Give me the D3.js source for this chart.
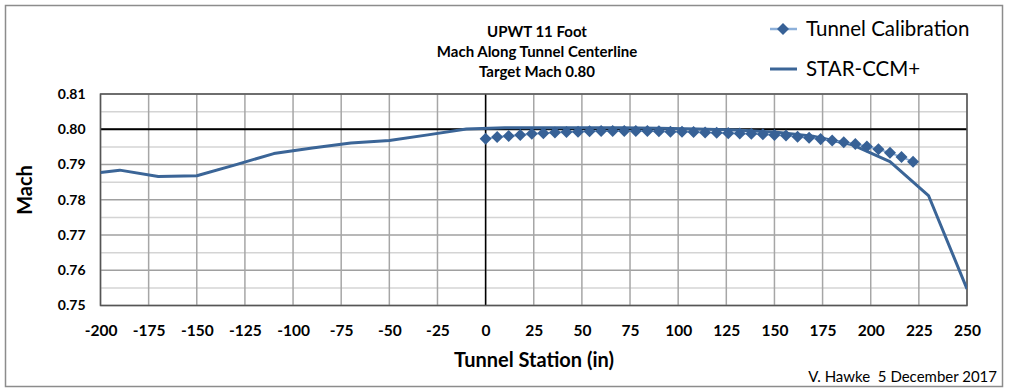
<!DOCTYPE html>
<html>
<head>
<meta charset="utf-8">
<script src="https://cdn.jsdelivr.net/npm/d3@7"></script>
<style>
  body { margin: 0; background: #fff; }
  svg text { font-family: Lato, "Open Sans", sans-serif; fill: #000; }
</style>
</head>
<body>
<div id="chart"></div>
<script>
// STAR-CCM+ CFD line
let cfdStation = [-200,-190,-170,-150,-130,-110,-90,-70,-50,-30,-10,10,30,50,70,90,110,130,150,170,190,210,230,250];
let cfdMach = [0.7877,0.7884,0.7866,0.7868,0.7899,0.7931,0.7947,0.7961,0.7968,0.7984,0.8001,0.8004,0.8004,0.8004,0.8004,0.8003,0.8001,0.7998,0.7992,0.7980,0.7957,0.7908,0.7812,0.7547];

// tunnel calibration points
let calStation = [0,6,12,18,24,30,36,42,48,54,60,66,72,78,84,90,96,102,108,114,120,126,132,138,144,150,156,162,168,174,180,186,192,198,204,210,216,222];
let calMach = [0.7973,0.7978,0.7981,0.7984,0.7987,0.7989,0.7991,0.7992,0.7993,0.7994,0.7995,0.7995,0.7995,0.7995,0.7995,0.7994,0.7993,0.7993,0.7992,0.7991,0.7990,0.7989,0.7988,0.7987,0.7986,0.7984,0.7982,0.7979,0.7976,0.7972,0.7968,0.7963,0.7958,0.7951,0.7943,0.7933,0.7921,0.7908];

let xTicks = d3.range(-200, 251, 25);
let yTicks = [0.75,0.76,0.77,0.78,0.79,0.80,0.81];
let yMinor = [0.755,0.765,0.775,0.785,0.795,0.805];
let titleLines = ['UPWT 11 Foot','Mach Along Tunnel Centerline','Target Mach 0.80'];

let width = 1009;
let height = 391;

const margin = {
    top: 94,
    left: 100.5,
    bottom: 85.5,
    right: 42,
};

let innerW = width - margin.left - margin.right;
let innerH = height - margin.top - margin.bottom;

let svg = d3.select('#chart').append('svg')
    .attr('width', width)
    .attr('height', height);

// outer chart frame
svg.append('rect')
    .attr('x', 5.5).attr('y', 5.5)
    .attr('width', 997).attr('height', 381)
    .attr('fill', 'none').attr('stroke', '#8c8c8c').attr('stroke-width', 1.5);

let g = svg.append('g').attr('transform', 'translate(' + margin.left + ',' + margin.top + ')');

let x = d3.scaleLinear().domain([-200, 250]).range([0, innerW]);
let y = d3.scaleLinear().domain([0.75, 0.81]).range([innerH, 0]);

//-----grid-------
g.selectAll('.minor').data(yMinor).enter().append('line')
    .attr('x1', 0).attr('x2', innerW)
    .attr('y1', d => y(d)).attr('y2', d => y(d))
    .attr('stroke', '#d4d4d4').attr('stroke-width', 1.5);

g.selectAll('.major').data(yTicks).enter().append('line')
    .attr('x1', 0).attr('x2', innerW)
    .attr('y1', d => y(d)).attr('y2', d => y(d))
    .attr('stroke', '#a0a0a0').attr('stroke-width', 1.5);

g.selectAll('.vgrid').data(xTicks).enter().append('line')
    .attr('x1', d => x(d)).attr('x2', d => x(d))
    .attr('y1', 0).attr('y2', innerH)
    .attr('stroke', '#a6a6a6').attr('stroke-width', 1.5);

// reference lines at station 0 and Mach 0.80
g.append('line')
    .attr('x1', x(0)).attr('x2', x(0)).attr('y1', 0).attr('y2', innerH)
    .attr('stroke', '#000').attr('stroke-width', 1.5);
g.append('line')
    .attr('x1', 0).attr('x2', innerW).attr('y1', y(0.80)).attr('y2', y(0.80))
    .attr('stroke', '#000').attr('stroke-width', 2);

g.append('rect')
    .attr('width', innerW).attr('height', innerH)
    .attr('fill', 'none').attr('stroke', '#555').attr('stroke-width', 1.5);

//-----axes-------
// plain hyphen for negatives, like the original
let xAxis = d3.axisBottom(x).tickValues(xTicks).tickSize(0).tickPadding(19).tickFormat(d => String(d));
let xg = g.append('g').attr('transform', 'translate(0,' + innerH + ')').call(xAxis);
xg.select('.domain').remove();
xg.selectAll('text').attr('font-size', 15.5).attr('font-weight', 'bold').attr('font-family', 'Lato, sans-serif');

let yAxis = d3.axisLeft(y).tickValues(yTicks).tickSize(0).tickPadding(15).tickFormat(d3.format('.2f'));
let yg = g.append('g').call(yAxis);
yg.select('.domain').remove();
yg.selectAll('text').attr('font-size', 14).attr('font-weight', 'bold').attr('font-family', 'Lato, sans-serif');

//-----series-------
let clip = svg.append('clipPath').attr('id', 'clip').append('rect')
    .attr('width', innerW).attr('height', innerH);

let cfdLine = d3.line()
    .x((d, i) => x(cfdStation[i]))
    .y(d => y(d));

g.append('path')
    .datum(cfdMach)
    .attr('clip-path', 'url(#clip)')
    .attr('d', cfdLine)
    .attr('fill', 'none')
    .attr('stroke', '#3b6597')
    .attr('stroke-width', 3)
    .attr('stroke-linejoin', 'round');

let calLine = d3.line()
    .x((d, i) => x(calStation[i]))
    .y(d => y(d));

g.append('path')
    .datum(calMach)
    .attr('d', calLine)
    .attr('fill', 'none')
    .attr('stroke', '#8db0da')
    .attr('stroke-width', 2);

let diamond = d3.symbol().type(d3.symbolDiamond2).size(92);

g.selectAll('.cal').data(calMach).enter().append('path')
    .attr('d', diamond)
    .attr('transform', (d, i) => 'translate(' + x(calStation[i]) + ',' + y(d) + ')')
    .attr('fill', '#376196');

//-----titles-------
svg.selectAll('.title').data(titleLines).enter().append('text')
    .attr('x', 537)
    .attr('y', (d, i) => 37 + i * 20)
    .attr('text-anchor', 'middle')
    .attr('font-size', 15)
    .attr('font-weight', 'bold')
    .text(d => d);

svg.append('text')
    .attr('x', 534).attr('y', 367)
    .attr('text-anchor', 'middle')
    .attr('font-size', 20)
    .attr('font-weight', 'bold')
    .text('Tunnel Station (in)');

svg.append('text')
    .attr('transform', 'translate(32,190) rotate(-90)')
    .attr('text-anchor', 'middle')
    .attr('font-size', 20).attr('font-weight', 'bold')
    .text('Mach');

svg.append('text')
    .attr('x', 997).attr('y', 382)
    .attr('text-anchor', 'end')
    .attr('font-size', 15)
    .attr('fill', '#222')
    .style('white-space', 'pre')
    .text('V. Hawke  5 December 2017');

//-----legend-------
let legend = svg.append('g');
legend.append('line')
    .attr('x1', 770).attr('x2', 797).attr('y1', 29).attr('y2', 29)
    .attr('stroke', '#8db0da').attr('stroke-width', 2.5);
legend.append('path')
    .attr('d', diamond)
    .attr('transform', 'translate(783,29)')
    .attr('fill', '#376196');
legend.append('text')
    .attr('x', 806).attr('y', 35.5)
    .attr('font-size', 20.5)
    .text('Tunnel Calibration');

legend.append('line')
    .attr('x1', 770).attr('x2', 797).attr('y1', 69).attr('y2', 69)
    .attr('stroke', '#3b6597').attr('stroke-width', 3);
legend.append('text')
    .attr('x', 806).attr('y', 75.5)
    .attr('font-size', 20.5)
    .text('STAR-CCM+');
</script>
</body>
</html>
